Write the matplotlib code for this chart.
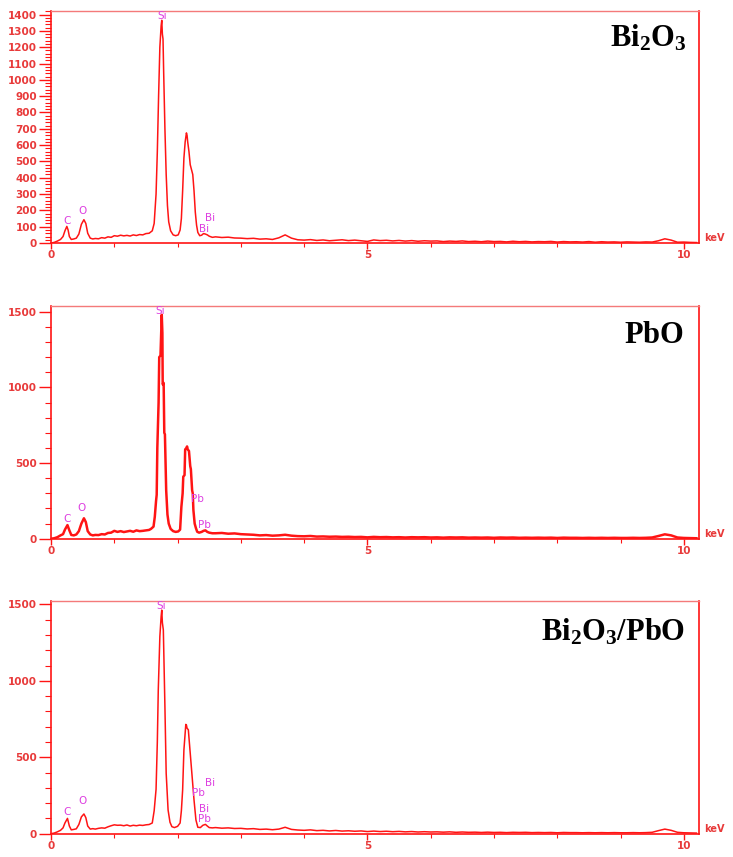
import matplotlib
matplotlib.use('Agg')
import matplotlib.pyplot as plt
import numpy as np
from matplotlib.ticker import MultipleLocator

plt.rcParams['mathtext.fontset'] = 'custom'
plt.rcParams['mathtext.bf'] = 'Liberation Serif:bold'
plt.rcParams['mathtext.rm'] = 'Liberation Serif'

RED = '#ff1414'
TXT = '#e83a3a'
PINK = '#dd3ee0'

# ---- Bi2O3 spectrum (peak region, keV / counts) ----
bi_e = [0.00, 0.05, 0.10, 0.15, 0.19, 0.22, 0.25, 0.27, 0.29, 0.32, 0.36, 0.40, 0.44, 0.48,
        0.52, 0.55, 0.58, 0.62, 0.66, 0.70, 0.75, 0.80, 0.85, 0.90, 0.95, 1.00, 1.05, 1.10,
        1.15, 1.20, 1.25, 1.30, 1.35, 1.40, 1.45, 1.50, 1.55, 1.60, 1.63, 1.66, 1.68, 1.70,
        1.72, 1.74, 1.75, 1.76, 1.77, 1.78, 1.80, 1.82, 1.84, 1.86, 1.89, 1.93, 1.97, 2.01,
        2.04, 2.06, 2.08, 2.10, 2.12, 2.14, 2.15, 2.16, 2.18, 2.20, 2.22, 2.24, 2.26, 2.28,
        2.30, 2.32, 2.35, 2.38, 2.41, 2.44, 2.47, 2.50, 2.55]
bi_c = [0, 4, 12, 22, 40, 75, 102, 80, 40, 22, 25, 30, 55, 115,
        143, 120, 60, 30, 25, 28, 26, 33, 30, 38, 35, 45, 42, 48,
        44, 47, 43, 50, 46, 52, 50, 58, 60, 75, 120, 300, 560, 900,
        1200, 1330, 1365, 1280, 1250, 1050, 700, 420, 230, 130, 75, 50, 45, 50,
        80, 150, 320, 520, 620, 675, 660, 620, 560, 480, 450, 420, 320, 190,
        110, 65, 45, 48, 58, 55, 50, 42, 35]
# baseline 2.6 .. 10.2 keV, every 0.1 keV
bi_tail = [38, 34, 36, 31, 30, 27, 29, 24, 26, 22, 32, 50, 30, 20, 18, 21, 16, 19, 14, 17,
           20, 15, 18, 14, 10, 19, 15, 17, 13, 16, 12, 15, 11, 14, 12, 13, 9, 12, 10, 13,
           9, 11, 8, 12, 9, 10, 7, 11, 8, 10, 7, 9, 8, 10, 6, 9, 7, 8, 6, 9,
           5, 8, 6, 7, 5, 7, 6, 5, 7, 6, 14, 26, 18, 5, 6, 4, 3]

# ---- PbO spectrum ----
pb_e = [0.00, 0.05, 0.10, 0.15, 0.19, 0.22, 0.26, 0.29, 0.32, 0.36, 0.40, 0.44, 0.48, 0.52,
        0.55, 0.58, 0.62, 0.66, 0.70, 0.75, 0.80, 0.85, 0.90, 0.95, 1.00, 1.05, 1.10, 1.15,
        1.20, 1.25, 1.30, 1.35, 1.40, 1.45, 1.50, 1.55, 1.58, 1.62, 1.64, 1.66, 1.67, 1.68,
        1.70, 1.71, 1.73, 1.74, 1.75, 1.76, 1.765, 1.78, 1.79, 1.80, 1.82, 1.84, 1.86, 1.89,
        1.93, 1.97, 2.01, 2.04, 2.06, 2.08, 2.09, 2.11, 2.12, 2.14, 2.15, 2.16, 2.18, 2.20,
        2.21, 2.23, 2.24, 2.25, 2.27, 2.29, 2.31, 2.34, 2.38, 2.41, 2.44, 2.47, 2.50, 2.55]
pb_c = [0, 3, 10, 22, 30, 60, 90, 55, 25, 22, 28, 50, 100, 135,
        110, 50, 28, 22, 25, 24, 30, 28, 38, 40, 52, 45, 50, 44,
        48, 52, 46, 55, 50, 52, 55, 58, 65, 80, 145, 250, 290, 600,
        900, 1200, 1210, 1350, 1480, 1360, 1020, 1030, 700, 690, 320, 160, 100, 65,
        50, 45, 48, 60, 210, 300, 410, 420, 590, 600, 610, 590, 580, 480,
        460, 320, 300, 190, 100, 70, 46, 40, 45, 52, 55, 45, 40, 36]
pb_tail = [36, 38, 33, 35, 30, 28, 26, 22, 24, 20, 22, 26, 20, 17, 16, 18, 14, 15, 13, 14,
           12, 13, 11, 12, 9, 12, 10, 11, 9, 10, 8, 10, 9, 10, 8, 9, 7, 9, 8, 9,
           7, 8, 7, 8, 6, 8, 7, 8, 6, 7, 6, 7, 6, 7, 5, 7, 6, 6, 5, 6,
           5, 6, 5, 6, 5, 5, 6, 5, 6, 8, 18, 29, 22, 8, 5, 4, 3]

# ---- Bi2O3/PbO spectrum ----
mix_e = [0.00, 0.05, 0.10, 0.15, 0.19, 0.22, 0.26, 0.29, 0.32, 0.36, 0.40, 0.44, 0.48, 0.52,
         0.55, 0.58, 0.62, 0.66, 0.70, 0.75, 0.80, 0.85, 0.90, 0.95, 1.00, 1.05, 1.10, 1.15,
         1.20, 1.25, 1.30, 1.35, 1.40, 1.45, 1.50, 1.55, 1.60, 1.63, 1.66, 1.68, 1.695, 1.72,
         1.74, 1.75, 1.76, 1.775, 1.79, 1.80, 1.82, 1.85, 1.88, 1.91, 1.95, 2.00, 2.04, 2.06,
         2.08, 2.10, 2.12, 2.13, 2.14, 2.15, 2.17, 2.20, 2.23, 2.26, 2.29, 2.32, 2.36, 2.40,
         2.44, 2.47, 2.50, 2.55]
mix_c = [0, 4, 12, 22, 38, 70, 100, 50, 25, 28, 32, 60, 110, 129,
         105, 50, 30, 33, 30, 35, 38, 36, 45, 52, 58, 55, 56, 52,
         57, 50, 55, 52, 56, 54, 58, 60, 70, 150, 290, 600, 940, 1290,
         1420, 1463, 1380, 1333, 1050, 830, 395, 155, 75, 46, 40, 48, 70, 150,
         286, 547, 660, 715, 711, 690, 680, 525, 373, 220, 90, 42, 40, 55,
         61, 50, 40, 38]
mix_tail = [40, 36, 38, 34, 35, 31, 33, 28, 30, 26, 30, 42, 28, 24, 22, 25, 20, 22, 18, 21,
            17, 19, 16, 18, 14, 17, 14, 16, 13, 15, 12, 14, 11, 13, 11, 12, 10, 12, 9, 11,
            9, 10, 8, 10, 8, 9, 7, 9, 8, 9, 7, 8, 7, 8, 6, 8, 7, 7, 6, 7,
            6, 7, 6, 7, 6, 6, 7, 6, 7, 9, 20, 30, 22, 9, 6, 5, 4]

tail_e = np.round(np.arange(2.6, 10.25, 0.1), 2)

titles = [r'$\mathbf{Bi_2O_3}$', r'$\mathbf{PbO}$', r'$\mathbf{Bi_2O_3/PbO}$']

# peak labels: (text, keV, counts)
bi_labels = [('C', 0.25, 137), ('O', 0.50, 198), ('Si', 1.75, 1392),
             ('Bi', 2.51, 155), ('Bi', 2.42, 88)]
pb_labels = [('C', 0.26, 128), ('O', 0.48, 201), ('Si', 1.73, 1507),
             ('Pb', 2.32, 260), ('Pb', 2.43, 90)]
mix_labels = [('C', 0.25, 144), ('O', 0.49, 212), ('Si', 1.74, 1491),
              ('Bi', 2.52, 330), ('Pb', 2.33, 264), ('Bi', 2.42, 164), ('Pb', 2.43, 94)]


def show_spectrum(ax, e, c, ymax, major, minor, title, labels, lw, title_xy):
    ax.plot(e, c, color=RED, lw=lw)
    ax.set_xlim(0, 10.24)
    ax.set_ylim(0, ymax)

    ax.xaxis.set_major_locator(MultipleLocator(5))
    ax.xaxis.set_minor_locator(MultipleLocator(1))
    ax.yaxis.set_major_locator(MultipleLocator(major))
    ax.yaxis.set_minor_locator(MultipleLocator(minor))
    ax.set_xticks([0, 5, 10])
    ax.set_xticklabels(['0', '5', '10'])

    ax.tick_params(axis='y', which='major', length=9, width=1, color=RED,
                   labelcolor=TXT, labelsize=7.5, pad=1)
    ax.tick_params(axis='y', which='minor', length=4, width=0.8, color=RED)
    ax.tick_params(axis='x', which='major', length=4, width=1, color=RED,
                   labelcolor=TXT, labelsize=7.5, pad=1)
    ax.tick_params(axis='x', which='minor', length=3, width=0.8, color=RED)
    for lab in ax.get_xticklabels() + ax.get_yticklabels():
        lab.set_fontweight('bold')

    for side in ['left', 'bottom', 'right']:
        ax.spines[side].set_color(RED)
        ax.spines[side].set_linewidth(1.2)
    ax.spines['top'].set_color('#f47a7a')
    ax.spines['top'].set_linewidth(1.0)

    for txt, x, y in labels:
        ax.text(x, y, txt, color=PINK, fontsize=7.5, ha='center', va='center')

    ax.text(1.008, 0.02, 'keV', transform=ax.transAxes, color=TXT, fontsize=7,
            fontweight='bold', ha='left', va='center')
    ax.text(title_xy[0], title_xy[1], title, transform=ax.transAxes, fontsize=22,
            ha='right', va='baseline', color='black')


fig = plt.figure(figsize=(7.33, 8.57), dpi=100)
ax1 = fig.add_axes([0.0696, 0.7164, 0.884, 0.2708])
ax2 = fig.add_axes([0.0696, 0.3714, 0.884, 0.2719])
ax3 = fig.add_axes([0.0696, 0.0272, 0.884, 0.2718])

show_spectrum(ax1, bi_e + list(tail_e), bi_c + bi_tail, 1422, 100, 20,
              titles[0], bi_labels, 1.1, (0.981, 0.845))
show_spectrum(ax2, pb_e + list(tail_e), pb_c + pb_tail, 1540, 500, 100,
              titles[1], pb_labels, 1.8, (0.977, 0.84))
show_spectrum(ax3, mix_e + list(tail_e), mix_c + mix_tail, 1524, 500, 100,
              titles[2], mix_labels, 1.1, (0.978, 0.83))

fig.savefig('out.png', dpi=100)
